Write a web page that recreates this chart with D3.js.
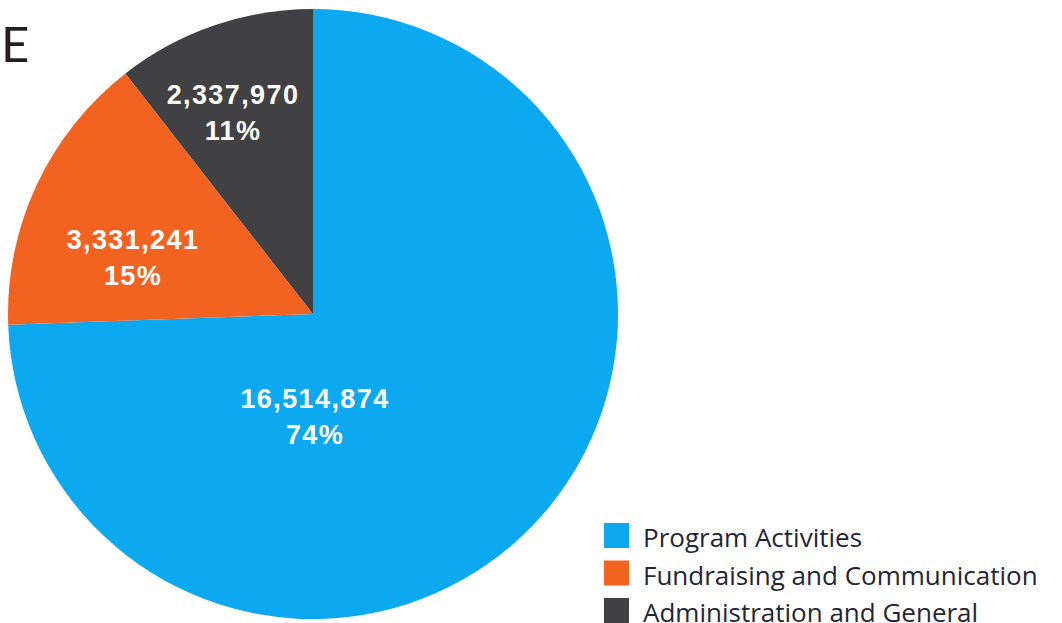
<!DOCTYPE html>
<html><head><meta charset="utf-8">
<script src="https://cdn.jsdelivr.net/npm/d3@7"></script>
<style>body{margin:0;background:#fff;}svg{display:block;}</style>
</head><body>
<svg id="c" width="1062" height="623"></svg>
<script>
const categories = ["Program Activities", "Fundraising and Communication", "Administration and General"];
const values = [16514874, 3331241, 2337970];
const percentLabels = ["74%", "15%", "11%"];
const colors = ["#0ca8f0", "#f26322", "#414042"];
// label placement (offsets from pie centre, pixels)
const labelOffsets = [[2, 100], [-180, -59], [-80, -204]];

const svg = d3.select("#c");
const cx = 313, cy = 314, r = 305;

svg.append("text").attr("x", 1).attr("y", 62)
  .attr("font-family", "Lato, 'Open Sans', sans-serif").attr("font-weight", 400)
  .attr("font-size", 49).attr("fill", "#231f20").text("E");

const pie = d3.pie().sort(null).value(d => d)(values);
const arc = d3.arc().innerRadius(0).outerRadius(r);
const g = svg.append("g").attr("transform", `translate(${cx},${cy})`);
g.selectAll("path").data(pie).join("path")
  .attr("d", arc).attr("fill", (d, i) => colors[i]);

const fmt = d3.format(",");
const lab = g.selectAll("g.lab").data(pie).join("g").attr("class", "lab")
  .attr("transform", (d, i) => `translate(${labelOffsets[i][0]},${labelOffsets[i][1]})`);
lab.append("text").attr("y", -6).attr("text-anchor", "middle")
  .attr("font-family", "'Liberation Sans', Arial, sans-serif").attr("font-weight", "bold")
  .attr("font-size", 27).attr("letter-spacing", 1.4).attr("fill", "#fff").text(d => fmt(d.data));
lab.append("text").attr("y", 30).attr("text-anchor", "middle")
  .attr("font-family", "'Liberation Sans', Arial, sans-serif").attr("font-weight", "bold")
  .attr("font-size", 27).attr("letter-spacing", 1.4).attr("fill", "#fff").text((d, i) => percentLabels[i]);

const leg = svg.append("g").attr("transform", "translate(604,523)");
const li = leg.selectAll("g").data(categories).join("g")
  .attr("transform", (d, i) => `translate(0,${i * 37.5})`);
li.append("rect").attr("width", 25).attr("height", 25).attr("fill", (d, i) => colors[i]);
li.append("text").attr("x", 39).attr("y", 24)
  .attr("font-family", "'Open Sans', 'Noto Sans', sans-serif").attr("font-size", 26)
  .attr("fill", "#1f2635").text(d => d);
</script>
</body></html>
